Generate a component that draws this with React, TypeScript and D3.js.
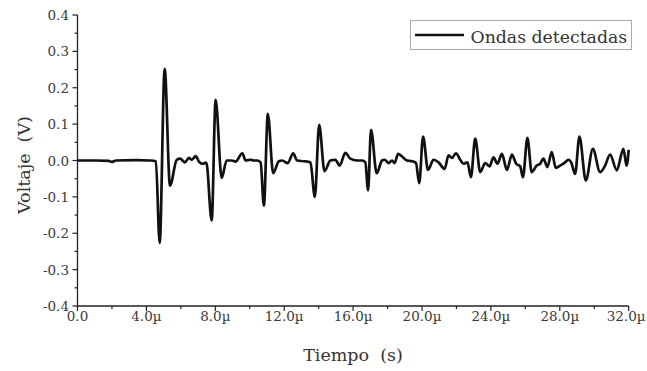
import React from "react";
import * as d3 from "d3";

const timeUs = [
  0, 1.06, 1.81, 1.99, 2.22, 3.38, 4.25, 4.55, 4.77, 5.06, 5.37, 5.76, 5.95, 6.24, 6.47, 6.63, 6.86, 7.05, 7.25, 7.48,
  7.79, 8.02, 8.37, 8.66, 8.95, 9.18, 9.57, 9.76, 10.05, 10.24, 10.43, 10.63, 10.82, 11.05, 11.36, 11.69, 11.88, 12.21,
  12.52, 12.75, 13.14, 13.52, 13.78, 14.03, 14.34, 14.68, 14.97, 15.22, 15.55, 15.84, 16.23, 16.52, 16.71, 16.87, 17.04,
  17.37, 17.68, 17.83, 18.06, 18.26, 18.41, 18.61, 18.84, 19.13, 19.42, 19.65, 19.84, 20.06, 20.35, 20.67, 20.96, 21.31,
  21.54, 21.74, 21.97, 22.22, 22.41, 22.64, 22.84, 23.09, 23.38, 23.67, 23.92, 24.15, 24.38, 24.64, 24.93, 25.22, 25.47,
  25.7, 25.86, 26.12, 26.37, 26.66, 26.86, 27.05, 27.28, 27.53, 27.77, 28.02, 28.31, 28.5, 28.66, 28.89, 29.14, 29.51,
  29.92, 30.34, 30.63, 30.92, 31.31, 31.69, 31.88, 32.0,
];
const voltage = [
  0, 0, -0.001, -0.004, 0, 0.001, 0, -0.002, -0.227, 0.252, -0.069, 0.002, 0.005, -0.005, 0.007, 0.002, 0.012, -0.003,
  -0.009, -0.006, -0.165, 0.167, -0.048, 0, 0, -0.003, 0.02, 0, 0.002, 0, 0, -0.005, -0.124, 0.128, -0.035, -0.002, 0,
  -0.007, 0.02, 0, -0.002, -0.005, -0.1, 0.098, -0.029, 0, 0.002, -0.014, 0.021, 0.005, 0, 0, -0.005, -0.082, 0.084,
  -0.035, 0, 0.002, -0.007, 0, -0.007, 0.018, 0.011, 0, -0.002, -0.007, -0.062, 0.066, -0.026, 0.002, -0.005, -0.023,
  0.014, 0.007, 0.02, 0.002, -0.009, -0.005, -0.046, 0.06, -0.032, -0.007, -0.016, 0.009, -0.009, 0.018, -0.026, 0.016,
  -0.009, -0.016, -0.046, 0.062, -0.032, -0.014, -0.009, 0.005, -0.018, 0.023, -0.02, -0.014, -0.005, 0.002, -0.005,
  -0.037, 0.066, -0.055, 0.032, -0.032, -0.014, 0.016, -0.027, 0.032, -0.014, 0.029,
];

const xTicks = [0, 4, 8, 12, 16, 20, 24, 28, 32];
const xTickLabels = ["0.0", "4.0µ", "8.0µ", "12.0µ", "16.0µ", "20.0µ", "24.0µ", "28.0µ", "32.0µ"];
const xMinor = [2, 6, 10, 14, 18, 22, 26, 30];
const yTicks = [0.4, 0.3, 0.2, 0.1, 0, -0.1, -0.2, -0.3, -0.4];
const yTickLabels = ["0.4", "0.3", "0.2", "0.1", "0.0", "-0.1", "-0.2", "-0.3", "-0.4"];
const yMinor = [0.35, 0.25, 0.15, 0.05, -0.05, -0.15, -0.25, -0.35];

const seriesName = "Ondas detectadas";
const xTitle = "Tiempo\u00a0\u00a0(s)";
const yTitle = "Voltaje\u00a0\u00a0(V)";

const FONT = '"DejaVu Serif", serif';

export default function App() {
  const W = 647, H = 371;
  const x = d3.scaleLinear().domain([0, 32]).range([77.5, 628.7]);
  const y = d3.scaleLinear().domain([-0.4, 0.4]).range([306, 15]);
  const pts: [number, number][] = timeUs.map((t, i) => [t, voltage[i]]);
  const line = d3
    .line<[number, number]>()
    .x((d) => x(d[0]))
    .y((d) => y(d[1]))
    .curve(d3.curveMonotoneX);
  const axisColor = "#222";
  const tickStyle: React.CSSProperties = { fontFamily: FONT, fontSize: "13.5px", fill: "#3a3a3a" };
  const titleStyle: React.CSSProperties = { fontFamily: FONT, fontSize: "17.5px", fill: "#333" };
  const lastIdx = xTicks.length - 1;
  return (
    <svg width={W} height={H} style={{ position: "absolute", left: 0, top: 0, background: "#fff" }}>
      <rect x={0} y={0} width={W} height={H} fill="#fff" />
      <line x1={x(0)} x2={x(32)} y1={y(-0.4)} y2={y(-0.4)} stroke={axisColor} strokeWidth={1.3} />
      <line x1={x(0)} x2={x(0)} y1={y(-0.4)} y2={y(0.4)} stroke={axisColor} strokeWidth={1.3} />
      {xTicks.map((t, i) => (
        <g key={"xt" + i}>
          <line x1={x(t)} x2={x(t)} y1={y(-0.4)} y2={y(-0.4) + 5} stroke={axisColor} strokeWidth={1.2} />
          <text
            x={i === lastIdx ? W - 1.5 : x(t)}
            y={320.5}
            textAnchor={i === lastIdx ? "end" : "middle"}
            style={tickStyle}
          >
            {xTickLabels[i]}
          </text>
        </g>
      ))}
      {xMinor.map((t, i) => (
        <line key={"xm" + i} x1={x(t)} x2={x(t)} y1={y(-0.4)} y2={y(-0.4) + 3} stroke={axisColor} strokeWidth={1.2} />
      ))}
      {yTicks.map((v, i) => (
        <g key={"yt" + i}>
          <line x1={x(0) - 5} x2={x(0)} y1={y(v)} y2={y(v)} stroke={axisColor} strokeWidth={1.2} />
          <text x={69} y={y(v) + 5} textAnchor="end" style={tickStyle}>
            {yTickLabels[i]}
          </text>
        </g>
      ))}
      {yMinor.map((v, i) => (
        <line key={"ym" + i} x1={x(0) - 3} x2={x(0)} y1={y(v)} y2={y(v)} stroke={axisColor} strokeWidth={1.2} />
      ))}
      <path d={line(pts) || ""} fill="none" stroke="#111" strokeWidth={2.7} strokeLinejoin="round" />
      <text x={353} y={361} textAnchor="middle" style={titleStyle}>
        {xTitle}
      </text>
      <text transform={`translate(30,165) rotate(-90)`} textAnchor="middle" style={titleStyle}>
        {yTitle}
      </text>
      <rect x={410.5} y={20.5} width={221} height={29} fill="#fff" stroke="#aaa" strokeWidth={1} />
      <line x1={415} x2={464} y1={35} y2={35} stroke="#111" strokeWidth={2.4} />
      <text x={470.5} y={43} style={{ ...titleStyle, fontSize: "17.3px" }}>
        {seriesName}
      </text>
    </svg>
  );
}
